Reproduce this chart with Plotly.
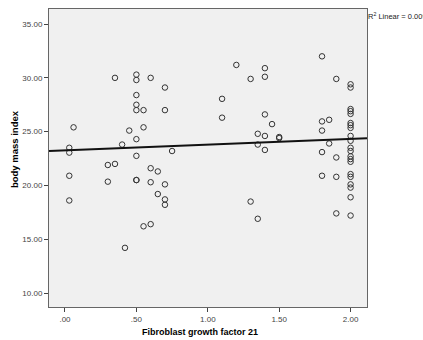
import numpy as np
import plotly.graph_objects as go

# Data (FGF21 vs BMI)
fgf21 = (
    [0.03]*4 + [0.06] + [0.30]*2 + [0.35]*2 + [0.40] + [0.42] + [0.45]
    + [0.50]*9 + [0.55]*3 + [0.60]*4 + [0.65]*2 + [0.70]*5 + [0.75]
    + [1.10]*2 + [1.20] + [1.30]*2 + [1.35]*3 + [1.40]*5 + [1.45] + [1.50]*2
    + [1.80]*5 + [1.85]*2 + [1.90]*4 + [2.00]*21
)
bmi = [
    23.5, 23.05, 20.9, 18.6,
    25.4,
    21.9, 20.35,
    30.0, 22.0,
    23.8,
    14.2,
    25.1,
    30.3, 29.8, 28.4, 27.5, 27.0, 24.3, 22.75, 20.5, 20.5,
    27.0, 25.4, 16.2,
    30.0, 21.6, 20.3, 16.4,
    21.3, 19.2,
    29.1, 27.0, 20.1, 18.7, 18.2,
    23.2,
    28.05, 26.3,
    31.2,
    29.9, 18.5,
    24.8, 23.8, 16.9,
    30.9, 30.1, 26.6, 24.6, 23.3,
    25.7,
    24.5, 24.4,
    32.0, 25.95, 25.1, 23.1, 20.9,
    26.1, 23.9,
    29.9, 22.6, 20.8, 17.4,
    29.4, 29.1, 27.1, 26.9, 26.65, 25.8, 25.6, 25.35, 24.6, 24.15, 23.5,
    23.2, 22.7, 22.45, 22.2, 21.05, 20.8, 20.1, 19.8, 18.9, 17.2,
]

x_tick_vals = [0.0, 0.5, 1.0, 1.5, 2.0]
x_tick_text = [".00", ".50", "1.00", "1.50", "2.00"]
y_tick_vals = [10, 15, 20, 25, 30, 35]
y_tick_text = ["10.00", "15.00", "20.00", "25.00", "30.00", "35.00"]

x_range = [-0.112, 2.115]
y_range = [8.7, 36.4]

slope, intercept = np.polyfit(fgf21, bmi, 1)
line_x = np.array(x_range)
line_y = intercept + slope * line_x

fig = go.Figure()
fig.add_trace(go.Scatter(
    x=fgf21, y=bmi, mode="markers",
    marker=dict(symbol="circle-open", size=5.5, color="#333333", line=dict(width=1, color="#333333")),
    showlegend=False, hoverinfo="skip",
))
fig.add_trace(go.Scatter(
    x=line_x, y=line_y, mode="lines",
    line=dict(color="#111111", width=2),
    showlegend=False, hoverinfo="skip",
))

axis_common = dict(
    showgrid=False, zeroline=False, showline=True, linecolor="#666666", linewidth=1,
    mirror=True, ticks="outside", ticklen=4, tickcolor="#444444",
    tickfont=dict(family="Liberation Sans, Arial", size=8, color="#444444"),
)

fig.update_layout(
    width=423, height=340,
    margin=dict(l=49, r=56, t=9, b=33),
    paper_bgcolor="white", plot_bgcolor="#F0F0F0",
    xaxis=dict(range=x_range, tickvals=x_tick_vals, ticktext=x_tick_text, **axis_common),
    yaxis=dict(range=y_range, tickvals=y_tick_vals, ticktext=y_tick_text, **axis_common),
    annotations=[
        dict(text="<b>Fibroblast growth factor 21</b>", xref="paper", yref="paper",
             x=0.475, y=-0.084, yanchor="middle", showarrow=False,
             font=dict(family="Liberation Sans, Arial", size=9, color="black")),
        dict(text="<b>body mass index</b>", xref="paper", yref="paper",
             x=-0.110, y=0.53, textangle=-90, xanchor="center", yanchor="middle", showarrow=False,
             font=dict(family="Liberation Sans, Arial", size=9.5, color="black")),
        dict(text="R<sup>2</sup> Linear = 0.009", xref="paper", yref="paper",
             x=0.997, y=0.975, xanchor="left", yanchor="middle", showarrow=False,
             font=dict(family="Liberation Sans, Arial", size=7.5, color="#222222")),
    ],
)

fig.write_html("out.html", config={"displayModeBar": False},
               post_script="document.body.style.margin='0';document.body.style.overflow='hidden';")
